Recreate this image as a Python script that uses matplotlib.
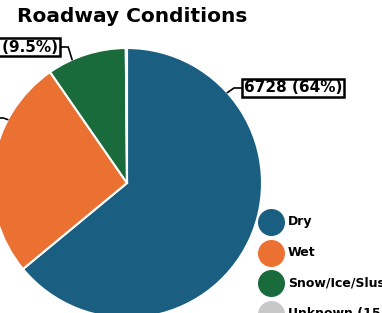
import numpy as np
import matplotlib
matplotlib.use('Agg')
import matplotlib.pyplot as plt

# data
categories = ['Dry', 'Wet', 'Snow/Ice/Slush', 'Unknown']
counts = [6728, 2770, 999, 15]
pct_labels = ['64%', '26%', '9.5%', '0.1%']
legend_labels = ['Dry', 'Wet', 'Snow/Ice/Slush', 'Unknown (15)']
colors = ['#1a5e81', '#eb7132', '#1a6b3b', '#c8c8c8']

W, H = 382, 313
fig = plt.figure(figsize=(W / 100, H / 100), dpi=100)
ax = fig.add_axes([0, 0, 1, 1])

# pie placed in pixel-like units so it runs off the left/bottom like the original
center = (127, H - 183)
radius = 135
wedges, _ = ax.pie(counts, colors=colors, startangle=90, counterclock=False,
                   center=center, radius=radius,
                   wedgeprops=dict(edgecolor='white', linewidth=1.5))
ax.set_xlim(0, W)
ax.set_ylim(0, H)
ax.set_aspect('equal')
ax.axis('off')

ax.text(17, H - 16, 'Roadway Conditions', fontsize=14.5, fontweight='heavy',
        va='center', ha='left')


def edge_point(angle_deg):
    a = np.deg2rad(angle_deg)
    return (center[0] + radius * np.cos(a), center[1] + radius * np.sin(a))


# callout labels: (index, anchor angle on rim, text pos, ha, connection angle)
callouts = [
    (0, 42, (244, H - 88), 'left', 35),
    (2, 114, (58, H - 47), 'right', 107),
    (1, 152, (-8, H - 118), 'right', 160),
]
for i, ang, txt_pos, ha, angB in callouts:
    label = f'{counts[i]} ({pct_labels[i]})'
    ax.annotate(label, xy=edge_point(ang), xytext=txt_pos,
                fontsize=11, fontweight='bold', ha=ha, va='center',
                bbox=dict(boxstyle='square,pad=0.12', fc='white', ec='black', lw=1.8),
                arrowprops=dict(arrowstyle='-', color='black', lw=1.2,
                                relpos=(0, 0.5) if ha == 'left' else (1, 0.5),
                                connectionstyle=f'angle,angleA=0,angleB={angB},rad=0',
                                shrinkA=0, shrinkB=0),
                annotation_clip=False)

# legend drawn by hand
leg_x = 271
leg_y0 = H - 222
for k, (lab, col) in enumerate(zip(legend_labels, colors)):
    y = leg_y0 - k * 30.5
    ax.scatter([leg_x], [y], s=340, color=col, clip_on=False, zorder=3)
    ax.text(leg_x + 17, y, lab, fontsize=9, fontweight='bold', va='center', ha='left')

fig.savefig('out.png', dpi=100)
